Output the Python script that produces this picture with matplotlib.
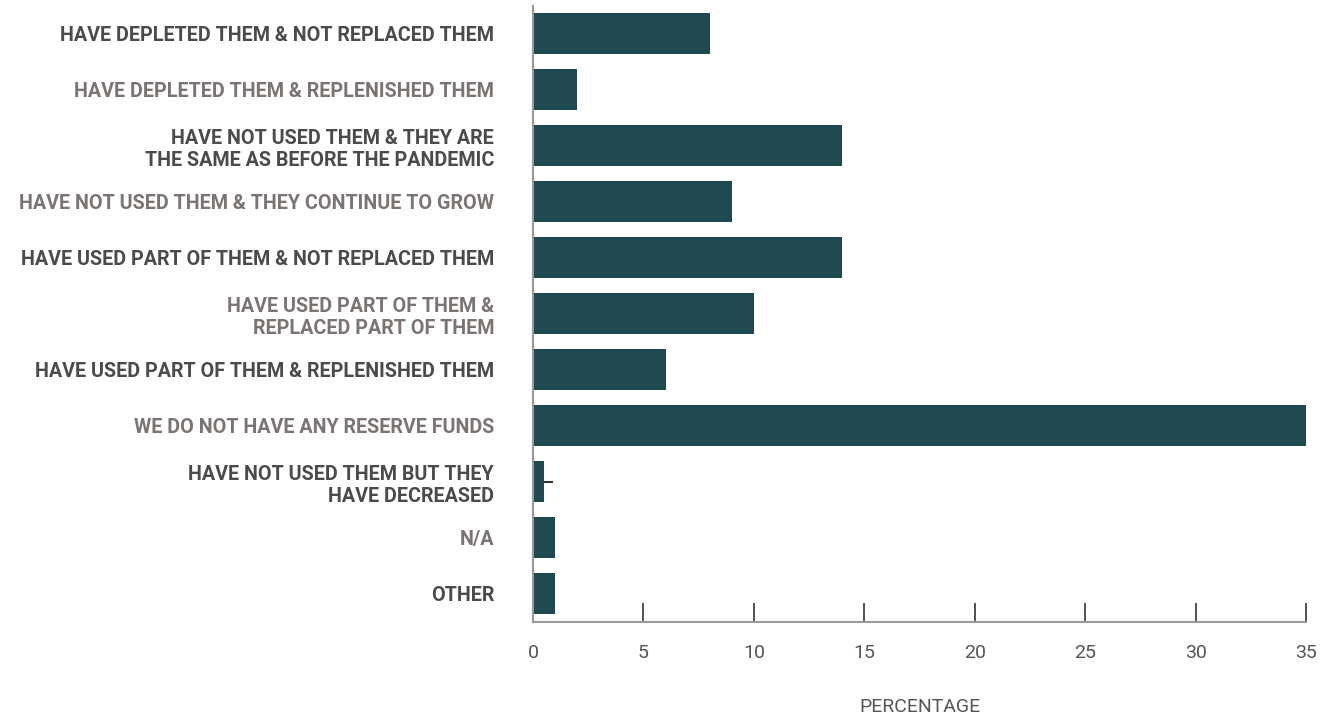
import matplotlib
matplotlib.use("Agg")
import matplotlib.pyplot as plt

categories = [
    "HAVE DEPLETED THEM & NOT REPLACED THEM",
    "HAVE DEPLETED THEM & REPLENISHED THEM",
    "HAVE NOT USED THEM & THEY ARE\nTHE SAME AS BEFORE THE PANDEMIC",
    "HAVE NOT USED THEM & THEY CONTINUE TO GROW",
    "HAVE USED PART OF THEM & NOT REPLACED THEM",
    "HAVE USED PART OF THEM &\nREPLACED PART OF THEM",
    "HAVE USED PART OF THEM & REPLENISHED THEM",
    "WE DO NOT HAVE ANY RESERVE FUNDS",
    "HAVE NOT USED THEM BUT THEY\nHAVE DECREASED",
    "N/A",
    "OTHER",
]
values = [8, 2, 14, 9, 14, 10, 6, 35, 0.5, 1, 1]
xticks = [0, 5, 10, 15, 20, 25, 30, 35]
xlabel = "PERCENTAGE"

bar_color = "#1f4a50"
dark_label = "#4b4b4d"
light_label = "#7b7472"

fig = plt.figure(figsize=(13.31, 7.16), dpi=100)
W, H = 1331, 716
ax = fig.add_axes([533 / W, 1 - 621.5 / H, (1306 - 533) / W, (621.5 - 5.5) / H])

y = list(range(len(categories)))
ax.barh(y, values, height=0.73, color=bar_color, zorder=2)
# small mark next to the tiny bar
idx = 8
ax.hlines(y[idx], values[idx], values[idx] + 0.4, color="#333333", lw=1.5, zorder=3)

ax.set_xlim(0, 35)
ax.set_ylim(len(categories) - 0.5, -0.5)
ax.set_yticks(y)
ax.set_yticklabels(categories, fontfamily="Roboto", fontweight="bold", fontsize=14.2,
                   linespacing=1.25)
for i, lab in enumerate(ax.get_yticklabels()):
    lab.set_color(dark_label if i % 2 == 0 else light_label)
ax.tick_params(axis="y", length=0, pad=28)

ax.set_xticks(xticks)
ax.set_xticklabels([str(t) for t in xticks], fontfamily="Roboto", fontweight="normal",
                   fontsize=14, color="#555555")
ax.tick_params(axis="x", direction="in", length=14, width=1.2, color="#333333", pad=16)

ax.set_xlabel(xlabel, fontfamily="Roboto", fontweight="normal", fontsize=14,
              color="#555555", labelpad=26)

for s in ["top", "right"]:
    ax.spines[s].set_visible(False)
for s in ["left", "bottom"]:
    ax.spines[s].set_color("#999999")
    ax.spines[s].set_linewidth(1.5)

fig.savefig("out.png", dpi=100)
